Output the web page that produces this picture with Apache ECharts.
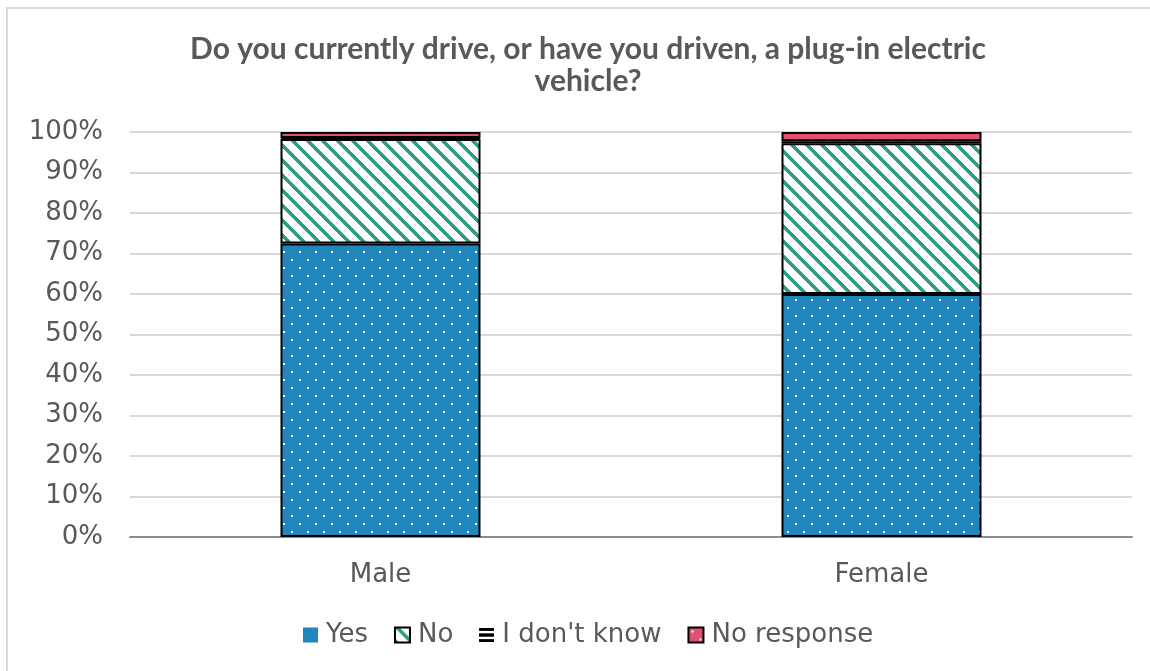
<!DOCTYPE html>
<html>
<head>
<meta charset="utf-8">
<script src="https://cdn.jsdelivr.net/npm/echarts@6/dist/echarts.min.js"></script>
<style>
  html, body { margin: 0; padding: 0; background: #ffffff; }
  #frame { position: absolute; left: 6px; top: 7px; width: 1160px; height: 700px;
           border-left: 2px solid #d9d9d9; border-top: 2px solid #d9d9d9; box-sizing: border-box; }
  #chart { position: absolute; left: 0; top: 0; width: 1150px; height: 671px; }
</style>
</head>
<body>
<div id="frame"></div>
<div id="chart"></div>
<script>
// Survey answers by gender, share of respondents
const categories = ['Male', 'Female'];
const yesValues = [72.5, 60.0];
const noValues = [25.8, 37.2];
const dontKnowValues = [0.2, 0.5];
const noResponseValues = [1.5, 2.3];
const seriesNames = ['Yes', 'No', "I don't know", 'No response'];
const yTicks = [0, 10, 20, 30, 40, 50, 60, 70, 80, 90, 100];

const TEXT = '#595959';
const FONT = '"DejaVu Sans", sans-serif';
const TITLE_FONT = 'Lato, sans-serif';

// Fill patterns drawn into small canvases
function dotTile(bg) {
  const c = document.createElement('canvas');
  c.width = 16; c.height = 16;
  const g = c.getContext('2d');
  g.fillStyle = bg; g.fillRect(0, 0, 16, 16);
  g.fillStyle = '#ffffff';
  g.fillRect(3, 3, 2, 2);
  g.fillRect(11, 11, 2, 2);
  return c;
}
function hatchTile(fg) {
  const p = 15;
  const c = document.createElement('canvas');
  c.width = p; c.height = p;
  const g = c.getContext('2d');
  g.fillStyle = '#ffffff'; g.fillRect(0, 0, p, p);
  g.fillStyle = fg;
  for (let y = 0; y < p; y++) {
    for (let x = 0; x < p; x++) {
      const d = ((x - y) % p + p) % p;
      if (d < 5) g.fillRect(x, y, 1, 1);
    }
  }
  return c;
}
function lineTile() {
  const c = document.createElement('canvas');
  c.width = 8; c.height = 6;
  const g = c.getContext('2d');
  g.fillStyle = '#ffffff'; g.fillRect(0, 0, 8, 6);
  g.fillStyle = '#000000'; g.fillRect(0, 0, 8, 3);
  return c;
}
// Legend marker for "I don't know": three black bars
function barsIcon() {
  const c = document.createElement('canvas');
  c.width = 18; c.height = 16;
  const g = c.getContext('2d');
  g.fillStyle = '#000000';
  g.fillRect(0, 0, 18, 3);
  g.fillRect(0, 6, 18, 4);
  g.fillRect(0, 13, 18, 3);
  return 'image://' + c.toDataURL();
}

const yesFill = { image: dotTile('#1f87bd'), repeat: 'repeat' };
const noFill = { image: hatchTile('#2e9e84'), repeat: 'repeat' };
const dkFill = { image: lineTile(), repeat: 'repeat' };
const nrFill = { image: dotTile('#e0526f'), repeat: 'repeat' };

const chart = echarts.init(document.getElementById('chart'), null, { renderer: 'canvas' });

function barSeries(name, data, fill) {
  return {
    name: name,
    type: 'bar',
    stack: 'total',
    barWidth: 200,
    data: data,
    itemStyle: { color: fill, borderColor: '#000000', borderWidth: 2 },
    emphasis: { disabled: true }
  };
}

chart.setOption({
  animation: false,
  title: {
    text: 'Do you currently drive, or have you driven, a plug-in electric\nvehicle?',
    left: 583, top: 28, textAlign: 'center',
    textStyle: { color: TEXT, fontFamily: TITLE_FONT, fontWeight: 'bold', fontSize: 30, lineHeight: 32 }
  },
  grid: { left: 130, right: 18, top: 132, bottom: 134 },
  legend: {
    bottom: 18, left: 298,
    icon: 'rect',
    itemWidth: 15, itemHeight: 15, itemGap: 26,
    textStyle: { color: TEXT, fontFamily: FONT, fontSize: 26, padding: [0, 0, 0, 3] },
    data: [
      { name: 'Yes', itemStyle: { color: '#1f87bd', borderWidth: 0 } },
      { name: 'No', itemStyle: { borderWidth: 2, borderColor: '#000' } },
      { name: "I don't know", icon: barsIcon(), itemStyle: { borderWidth: 0 } },
      { name: 'No response', itemStyle: { borderWidth: 2, borderColor: '#000' } }
    ]
  },
  xAxis: {
    type: 'category',
    data: categories,
    axisTick: { show: false },
    axisLine: { lineStyle: { color: '#8c8c8c', width: 2 } },
    axisLabel: { color: TEXT, fontFamily: FONT, fontSize: 26, margin: 25 }
  },
  yAxis: {
    type: 'value',
    min: yTicks[0], max: yTicks[yTicks.length - 1], interval: 10,
    axisLine: { show: false },
    axisTick: { show: false },
    splitLine: { lineStyle: { color: '#d9d9d9', width: 2 } },
    axisLabel: { color: TEXT, fontFamily: FONT, fontSize: 26, margin: 27, formatter: v => v + '%' }
  },
  series: [
    barSeries(seriesNames[0], yesValues, yesFill),
    barSeries(seriesNames[1], noValues, noFill),
    barSeries(seriesNames[2], dontKnowValues, dkFill),
    barSeries(seriesNames[3], noResponseValues, nrFill)
  ]
});
</script>
</body>
</html>
